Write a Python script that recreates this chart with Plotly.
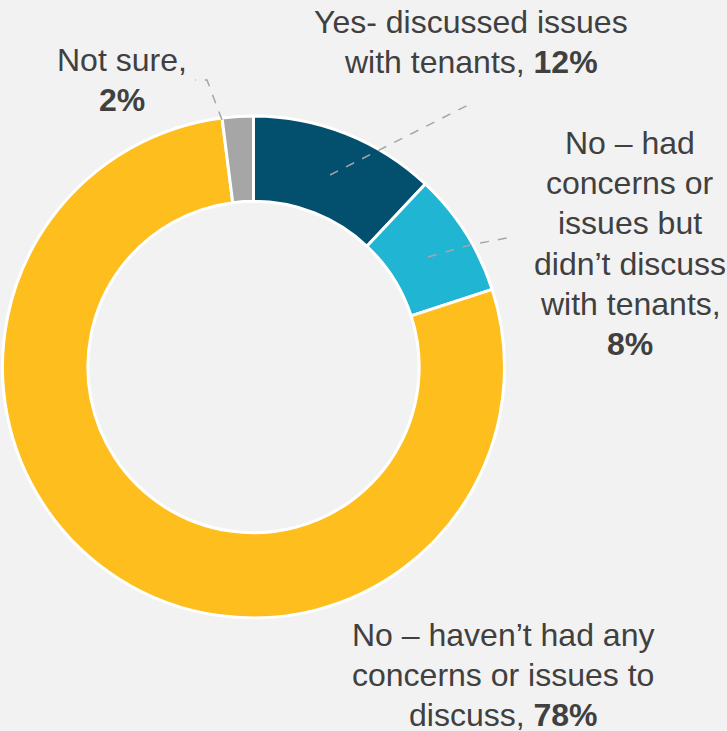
import plotly.graph_objects as go

labels = ["Yes- discussed issues with tenants",
          "No – had concerns or issues but didn’t discuss with tenants",
          "No – haven’t had any concerns or issues to discuss",
          "Not sure"]
values = [12, 8, 78, 2]
colors = ["#034F6E", "#1FB5D3", "#FEBE1E", "#A6A6A6"]
label_lines = [
    ["Yes- discussed issues", "with tenants, <b>12%</b>"],
    ["No – had", "concerns or", "issues but", "didn’t discuss", "with tenants,", "<b>8%</b>"],
    ["No – haven’t had any", "concerns or issues to", "discuss, <b>78%</b>"],
    ["Not sure,", "<b>2%</b>"],
]

W, H = 727, 731

def px(x):
    return x / W

def py(y):
    return 1 - y / H

fig = go.Figure()
fig.add_trace(go.Pie(
    labels=labels, values=values, sort=False, direction="clockwise", rotation=0,
    hole=0.66, textinfo="none", hoverinfo="label+percent",
    marker=dict(colors=colors, line=dict(color="white", width=3)),
    domain=dict(x=[px(2.5), px(504.5)], y=[py(618), py(116)]),
    showlegend=False,
))

font = dict(family="Liberation Sans, Arial, sans-serif", size=32, color="#404040")
# label block: center x, first line center y (pixels); line spacing
label_pos = [(471, 22), (630, 143), (503, 635), (122, 60)]
LS = 40.2
for lines_, (x, y0) in zip(label_lines, label_pos):
    for i, t in enumerate(lines_):
        fig.add_annotation(x=px(x), y=py(y0 + i * LS), xref="paper", yref="paper", text=t,
                           showarrow=False, align="center", font=font,
                           xanchor="center", yanchor="middle")

leaders = [
    [(330, 175), (472, 103)],
    [(428, 257), (470, 245), (512, 237)],
    [(222, 120), (207, 80), (195, 80)],
]
for pts in leaders:
    path = "M " + " L ".join(f"{px(x)},{py(y)}" for x, y in pts)
    fig.add_shape(type="path", path=path, xref="paper", yref="paper",
                  line=dict(color="#A6A6A6", width=1.5, dash="dash"))

fig.update_layout(width=W, height=H, margin=dict(l=0, r=0, t=0, b=0),
                  paper_bgcolor="#F2F2F2", plot_bgcolor="#F2F2F2")
fig.write_html("out.html", config={"displayModeBar": False},
               post_script="document.body.style.margin='0';document.body.style.overflow='hidden';")
